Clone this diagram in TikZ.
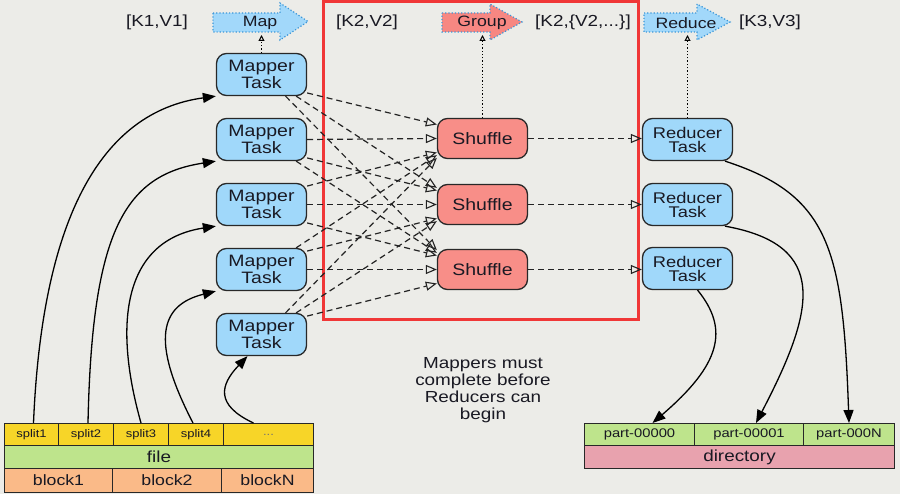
\documentclass[tikz,border=0pt]{standalone}
\usepackage{fontspec}
\setmainfont{Liberation Sans}[FakeStretch=1.18]
\usetikzlibrary{arrows.meta}
\definecolor{bg}{RGB}{236,236,232}
\definecolor{taskblue}{RGB}{160,216,250}
\definecolor{shufred}{RGB}{248,142,136}
\definecolor{boxline}{RGB}{40,40,40}
\definecolor{dashc}{RGB}{35,35,35}
\definecolor{txt}{RGB}{25,25,35}
\definecolor{arrowblue}{RGB}{162,216,250}
\definecolor{arrowred}{RGB}{247,135,130}
\definecolor{dotblue}{RGB}{60,150,215}
\definecolor{splity}{RGB}{247,213,40}
\definecolor{fileg}{RGB}{190,228,140}
\definecolor{blocko}{RGB}{250,186,136}
\definecolor{dirpink}{RGB}{232,162,174}
\definecolor{redframe}{RGB}{240,55,55}
\begin{document}
\begin{tikzpicture}[x=1pt,y=-1pt,
  task/.style={draw=boxline, line width=1.3pt, fill=taskblue, rounded corners=10pt,
    minimum width=90pt, minimum height=42pt, inner sep=0pt, align=center,
    font=\fontsize{16.5}{14}\selectfont, text=txt},
  shuf/.style={task, fill=shufred, minimum height=40pt},
  redtask/.style={task, font=\fontsize{15.5}{14}\selectfont},
  dasharrow/.style={draw=dashc, line width=1.2pt, dash pattern=on 6pt off 4pt,
    -{Triangle[open, length=11pt, width=9pt, line width=1.1pt]}},
  dotarrow/.style={draw=black, line width=1.3pt, dotted,
    -{Triangle[open, length=6pt, width=6pt, line width=1pt]}},
  solidarrow/.style={draw=black, line width=1.3pt, -{Triangle[length=13pt, width=10pt]}},
  bigarrow/.style={draw=dotblue, line width=1.2pt, dotted},
  arrowtext/.style={font=\fontsize{15}{15}\selectfont, text=txt},
  kvtext/.style={font=\fontsize{16}{16}\selectfont, text=txt},
  cell/.style={draw=boxline, line width=1pt, inner sep=0pt, anchor=north west, text=txt},
  splitcell/.style={cell, fill=splity, minimum height=22pt, font=\fontsize{11}{11}\selectfont},
  filecell/.style={cell, fill=fileg, minimum height=23pt, font=\fontsize{16}{16}\selectfont},
  blockcell/.style={cell, fill=blocko, minimum height=24pt, font=\fontsize{15}{15}\selectfont},
  partcell/.style={cell, fill=fileg, minimum height=22pt, font=\fontsize{12.5}{12.5}\selectfont},
  dircell/.style={cell, fill=dirpink, minimum height=23pt, font=\fontsize{16}{16}\selectfont}
]
\fill[bg] (0,0) rectangle (900,494);
\useasboundingbox (0,0) rectangle (900,494);

% red frame
\draw[redframe, line width=3pt] (323,1.5) rectangle (638,320);

% top labels
\node[kvtext] (kv1) at (157,22) {[K1,V1]};
\node[kvtext] (kv2) at (367,22) {[K2,V2]};
\node[kvtext] (kv3) at (583,22) {[K2,\{V2,...\}]};
\node[kvtext] (kv4) at (770,22) {[K3,V3]};

% top arrows
\filldraw[fill=arrowblue, bigarrow] (213,13) -- (280,13) -- (280,3) -- (308,21.5) -- (280,40) -- (280,32) -- (213,32) -- cycle;
\filldraw[fill=arrowred, bigarrow] (442,13) -- (490,13) -- (490,4) -- (522,22) -- (490,40) -- (490,32) -- (442,32) -- cycle;
\filldraw[fill=arrowblue, bigarrow] (644,13) -- (697,13) -- (697,4) -- (730,22) -- (697,40) -- (697,32) -- (644,32) -- cycle;
\node[arrowtext] (maplbl) at (260,23) {Map};
\node[arrowtext] (grplbl) at (482,23) {Group};
\node[arrowtext] (redlbl) at (686,23) {Reduce};
\coordinate (mapb) at (261.5,35);
\coordinate (grpb) at (482.5,35);
\coordinate (redb) at (687.5,35);

% mapper tasks
\foreach \k/\y in {1/74.5,2/139.5,3/204.5,4/269.5,5/334.5}{
  \node[task] (m\k) at (261.5,\y) {Mapper\\Task};
}
% shuffles
\foreach \k/\y in {1/138.5,2/204.5,3/269.5}{
  \node[shuf] (s\k) at (482.5,\y) {Shuffle};
}
% reducers
\foreach \k/\y in {1/139.5,2/204.5,3/268.5}{
  \node[redtask] (r\k) at (687.5,\y) {Reducer\\Task};
}

% dotted arrows up
\draw[dotarrow] (m1.north) -- (mapb);
\draw[dotarrow] (s1.north) -- (grpb);
\draw[dotarrow] (r1.north) -- (redb);

% dashed mapper -> shuffle
\foreach \i in {1,...,5}{
  \foreach \j in {1,2,3}{
    \pgfmathtruncatemacro\d{\j+1-\i}
    \pgfmathtruncatemacro\sa{(\d==0)?0:((\d>0)?(-12-10*\d):(12-10*\d))}
    \pgfmathtruncatemacro\ea{(\d==0)?180:((\d>0)?(180-14-3*\d):(180+14-3*\d))}
    \draw[dasharrow] (m\i.\sa) -- (s\j.\ea);
  }
}
% dashed shuffle -> reducer
\foreach \k in {1,2,3}{
  \draw[dasharrow] (s\k.east) -- (s\k.east -| r\k.west);
}

% bottom left table
\node[splitcell, minimum width=54pt] (sp1) at (4,423) {split1};
\node[splitcell, minimum width=55pt] (sp2) at (58,423) {split2};
\node[splitcell, minimum width=55pt] (sp3) at (113,423) {split3};
\node[splitcell, minimum width=55pt] (sp4) at (168,423) {split4};
\node[splitcell, minimum width=90pt, text=black!55] (sp5) at (223,423) {...};
\node[filecell, minimum width=309pt] (file) at (4,445) {file};
\node[blockcell, minimum width=108pt] (b1) at (4,468) {block1};
\node[blockcell, minimum width=109pt] (b2) at (112,468) {block2};
\node[blockcell, minimum width=92pt] (b3) at (221,468) {blockN};

% bottom right table
\node[partcell, minimum width=110pt] (p1) at (584,423) {part-00000};
\node[partcell, minimum width=109pt] (p2) at (694,423) {part-00001};
\node[partcell, minimum width=91pt] (p3) at (803,423) {part-000N};
\node[dircell, minimum width=310pt] (dir) at (584,445) {directory};

% note
\node[align=center, font=\fontsize{16}{17}\selectfont, text=txt] (note) at (483,390)
  {Mappers must\\complete before\\Reducers can\\begin};

% split -> mapper curves
\draw[solidarrow] ([xshift=2pt]sp1.north) .. controls (42,220) and (100,112) .. (m1.south west);
\draw[solidarrow] ([xshift=2pt]sp2.north) .. controls (92,230) and (125,175) .. (m2.south west);
\draw[solidarrow] (sp3.north) .. controls (112,320) and (125,240) .. (m3.south west);
\draw[solidarrow] ([xshift=-3pt]sp4.north) .. controls (150,340) and (160,305) .. (m4.south west);
\draw[solidarrow] ([xshift=-15pt]sp5.north) .. controls (215,405) and (220,385) .. ([xshift=-14pt]m5.south);

% reducer -> part curves
\draw[solidarrow] (r1.-30) .. controls (830,195) and (843,250) .. (p3.north);
\draw[solidarrow] (r2.-30) .. controls (830,245) and (815,310) .. ([xshift=7pt]p2.north);
\draw[solidarrow] (r3.-65) .. controls (730,330) and (720,365) .. ([xshift=13pt]p1.north);
\end{tikzpicture}
\end{document}
